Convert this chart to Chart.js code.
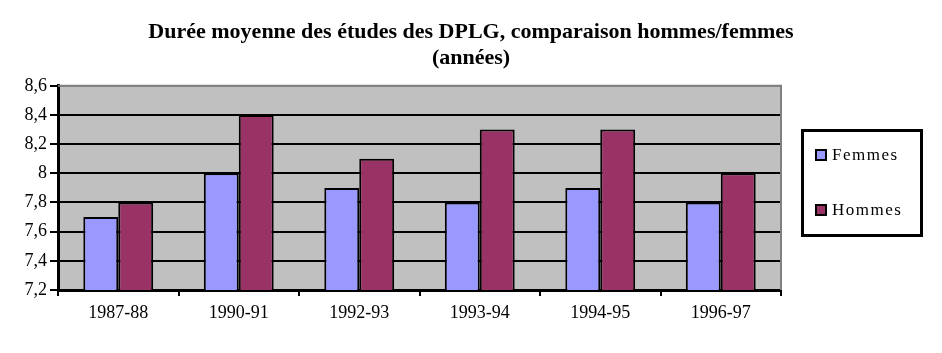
<!DOCTYPE html>
<html>
<head>
<meta charset="utf-8">
<script src="https://cdn.jsdelivr.net/npm/chart.js@4.4.0/dist/chart.umd.min.js"></script>
<style>
  body { margin: 0; background: #fff; }
</style>
</head>
<body>
<canvas id="c" width="942" height="353"></canvas>
<script>
/* DATA */
var categories = ["1987-88", "1990-91", "1992-93", "1993-94", "1994-95", "1996-97"];
var femmes = [7.7, 8.0, 7.9, 7.8, 7.9, 7.8];
var hommes = [7.8, 8.4, 8.1, 8.3, 8.3, 8.0];
var seriesNames = ["Femmes", "Hommes"];
var seriesColors = ["#9999ff", "#993366"];
var titleLines = ["Durée moyenne des études des DPLG, comparaison hommes/femmes", "(années)"];

var serif = "'Liberation Serif', 'Times New Roman', serif";

/* PLOT AREA BACKGROUND + BORDER */
var plotArea = {
  id: "plotArea",
  beforeDraw: function (chart) {
    var a = chart.chartArea, ctx = chart.ctx;
    ctx.save();
    ctx.fillStyle = "#c0c0c0";
    ctx.fillRect(a.left, a.top, a.right - a.left, a.bottom - a.top);
    ctx.restore();
  },
  afterDatasetsDraw: function (chart) {
    var a = chart.chartArea, ctx = chart.ctx;
    ctx.save();
    ctx.strokeStyle = "#808080";
    ctx.lineWidth = 2;
    ctx.beginPath();
    ctx.moveTo(a.left, a.top);
    ctx.lineTo(a.right, a.top);
    ctx.lineTo(a.right, a.bottom);
    ctx.stroke();
    ctx.restore();
  }
};

/* LEGEND BOX (right of plot) */
var boxLegend = {
  id: "boxLegend",
  afterDraw: function (chart) {
    var ctx = chart.ctx;
    var x = chart.chartArea.right + 20, y = 129, w = 122, h = 108;
    ctx.save();
    ctx.fillStyle = "#fff";
    ctx.fillRect(x, y, w, h);
    ctx.strokeStyle = "#000";
    ctx.lineWidth = 3;
    ctx.strokeRect(x + 1.5, y + 1.5, w - 3, h - 3);
    ctx.font = "17px " + serif;
    ctx.textBaseline = "middle";
    if ("letterSpacing" in ctx) ctx.letterSpacing = "1.5px";
    chart.data.datasets.forEach(function (ds, i) {
      var cy = y + 26 + i * 55;
      ctx.fillStyle = ds.backgroundColor;
      ctx.fillRect(x + 15, cy - 5, 10, 10);
      ctx.lineWidth = 2;
      ctx.strokeRect(x + 15, cy - 5, 10, 10);
      ctx.fillStyle = "#000";
      ctx.fillText(ds.label, x + 31, cy + 1);
    });
    ctx.restore();
  }
};

new Chart(document.getElementById("c"), {
  type: "bar",
  data: {
    labels: categories,
    datasets: [
      { label: seriesNames[0], data: femmes, backgroundColor: seriesColors[0], borderColor: "#000", borderWidth: 2 },
      { label: seriesNames[1], data: hommes, backgroundColor: seriesColors[1], borderColor: "#000", borderWidth: 2 }
    ]
  },
  options: {
    responsive: false,
    animation: false,
    layout: { padding: 0 },
    datasets: { bar: { barPercentage: 1, categoryPercentage: 0.58 } },
    plugins: {
      legend: { display: false },
      tooltip: { enabled: false },
      title: {
        display: true,
        text: titleLines,
        color: "#000",
        font: { family: serif, size: 22, weight: "bold", lineHeight: 1.2 },
        padding: { top: 19, bottom: 14 }
      }
    },
    scales: {
      x: {
        grid: { drawOnChartArea: false, color: "#000", lineWidth: 2, tickLength: 6 },
        border: { color: "#000", width: 3 },
        ticks: { color: "#000", font: { family: serif, size: 18 }, padding: 6 },
        afterFit: function (s) { s.height = 63; }
      },
      y: {
        min: 7.2, max: 8.6,
        grid: {
          color: function (c) { return c.tick && c.tick.value >= 8.59 ? "#808080" : "#000"; },
          tickColor: "#000",
          lineWidth: 2, tickLength: 8
        },
        border: { color: "#000", width: 3 },
        ticks: {
          stepSize: 0.2,
          color: "#000",
          font: { family: serif, size: 18 },
          padding: 3,
          callback: function (v) { return String(Number(v.toFixed(1))).replace(".", ","); }
        },
        afterFit: function (s) { s.width = 58; }
      },
      /* empty right axis: keeps room for the legend without shifting the title */
      side: {
        position: "right",
        min: 7.2, max: 8.6,
        grid: { display: false },
        border: { display: false },
        ticks: { display: false },
        afterFit: function (s) { s.width = 161; }
      }
    }
  },
  plugins: [plotArea, boxLegend]
});
</script>
</body>
</html>
